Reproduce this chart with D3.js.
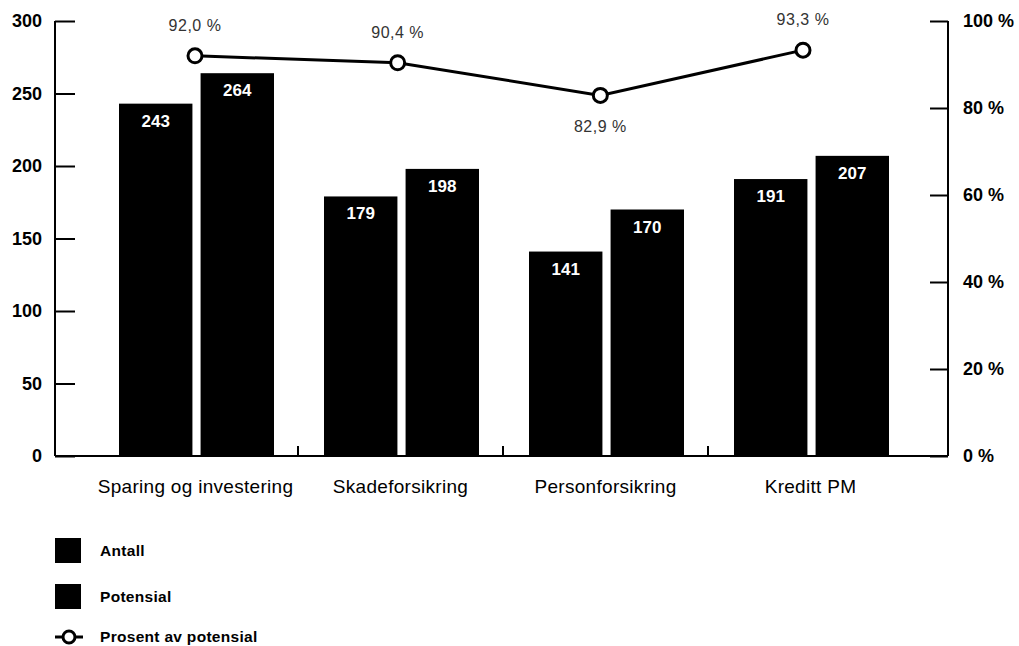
<!DOCTYPE html>
<html><head><meta charset="utf-8">
<script src="https://cdn.jsdelivr.net/npm/d3@7"></script>
<style>body{margin:0;background:#fff}svg{display:block;font-family:"Liberation Sans",Arial,Helvetica,sans-serif}</style>
</head><body><svg id="c" width="1019" height="646"></svg>
<script>
const categories = ["Sparing og investering","Skadeforsikring","Personforsikring","Kreditt PM"];
const antall = [243,179,141,191];
const potensial = [264,198,170,207];
const prosent = [92.0,90.4,82.9,93.3];
const leftTicks = [0,50,100,150,200,250,300];
const rightTicks = [0,20,40,60,80,100];
const legendLabels = ["Antall","Potensial","Prosent av potensial"];

const FF = "Liberation Sans, Arial, sans-serif";
const svg = d3.select("#c");
const x0 = d3.scaleBand().domain(categories).range([93,913]).paddingInner(0).paddingOuter(0);
const x1 = d3.scaleBand().domain(["a","p"]).range([26,181]).paddingInner(0.1);
const xp = d3.scalePoint().domain(categories).range([195,803]);
const yL = d3.scaleLinear().domain([0,300]).range([456,21]);
const yR = d3.scaleLinear().domain([0,100]).range([456,21]);

// bars
const series = [{k:"a",v:antall},{k:"p",v:potensial}];
series.forEach(s=>{
  const g = svg.append("g");
  g.selectAll("rect").data(categories).join("rect")
    .attr("x",d=>x0(d)+x1(s.k)).attr("width",x1.bandwidth())
    .attr("y",(d,i)=>yL(s.v[i])).attr("height",(d,i)=>yL(0)-yL(s.v[i]))
    .attr("fill","#000");
  g.selectAll("text").data(categories).join("text")
    .attr("x",d=>x0(d)+x1(s.k)+x1.bandwidth()/2)
    .attr("y",(d,i)=>yL(s.v[i])+23)
    .attr("text-anchor","middle").attr("fill","#fff")
    .attr("font-size",17).attr("font-weight","bold")
    .text((d,i)=>s.v[i]);
});

// left axis
const axL = svg.append("g").attr("transform","translate(55,0)")
  .call(d3.axisLeft(yL).tickValues(leftTicks).tickSize(-20).tickPadding(13));
axL.select(".domain").attr("d","M0,21V456").attr("stroke","#000").attr("stroke-width",2).attr("fill","none");
axL.selectAll("line").attr("stroke","#000").attr("stroke-width",2);
axL.selectAll("text").attr("font-size",18).attr("font-weight","bold").attr("fill","#000").attr("font-family",FF);

// right axis
const axR = svg.append("g").attr("transform","translate(948,0)")
  .call(d3.axisRight(yR).tickValues(rightTicks).tickFormat(d=>d+" %").tickSize(-18).tickPadding(15));
axR.select(".domain").attr("d","M0,21V456").attr("stroke","#000").attr("stroke-width",2).attr("fill","none");
axR.selectAll("line").attr("stroke","#000").attr("stroke-width",2);
axR.selectAll("text").attr("font-size",18).attr("font-weight","bold").attr("fill","#000").attr("font-family",FF);

// bottom axis
const axB = svg.append("g").attr("transform","translate(0,456)")
  .call(d3.axisBottom(x0).tickSize(0).tickPadding(23));
axB.select(".domain").attr("d","M55,0H948").attr("stroke","#000").attr("stroke-width",2);
axB.selectAll("text").attr("font-size",19).attr("letter-spacing",0.3).attr("fill","#000").attr("font-family",FF)
  .attr("dy",null).attr("y",37);
svg.append("g").selectAll("line").data(categories.slice(1)).join("line")
  .attr("x1",d=>x0(d)).attr("x2",d=>x0(d)).attr("y1",446).attr("y2",456)
  .attr("stroke","#000").attr("stroke-width",2);

// line
svg.append("path").datum(categories)
  .attr("d",d3.line().x(d=>xp(d)).y((d,i)=>yR(prosent[i])))
  .attr("fill","none").attr("stroke","#000").attr("stroke-width",3);
svg.append("g").selectAll("circle").data(categories).join("circle")
  .attr("cx",d=>xp(d)).attr("cy",(d,i)=>yR(prosent[i])).attr("r",7)
  .attr("fill","#fff").attr("stroke","#000").attr("stroke-width",3);
const fmt = v=>v.toFixed(1).replace(".",",")+" %";
svg.append("g").selectAll("text").data(categories).join("text")
  .attr("x",d=>xp(d))
  .attr("y",(d,i)=> i===2 ? yR(prosent[i])+37 : yR(prosent[i])-25)
  .attr("text-anchor","middle").attr("font-size",16).attr("letter-spacing",0.5).attr("fill","#333")
  .text((d,i)=>fmt(prosent[i]));

// legend
const lg = svg.append("g");
[0,1].forEach(i=>{
  lg.append("rect").attr("x",55).attr("y",538+i*46).attr("width",26).attr("height",25).attr("fill","#000");
});
const ly = [556,602,642];
legendLabels.forEach((t,i)=>{
  lg.append("text").attr("x",100).attr("y",ly[i]).attr("font-size",15.5).attr("letter-spacing",0.3).attr("font-weight","bold").attr("fill","#000").text(t);
});
lg.append("line").attr("x1",55).attr("x2",83).attr("y1",637).attr("y2",637).attr("stroke","#000").attr("stroke-width",3);
lg.append("circle").attr("cx",69).attr("cy",637).attr("r",6).attr("fill","#fff").attr("stroke","#000").attr("stroke-width",3);
</script></body></html>
